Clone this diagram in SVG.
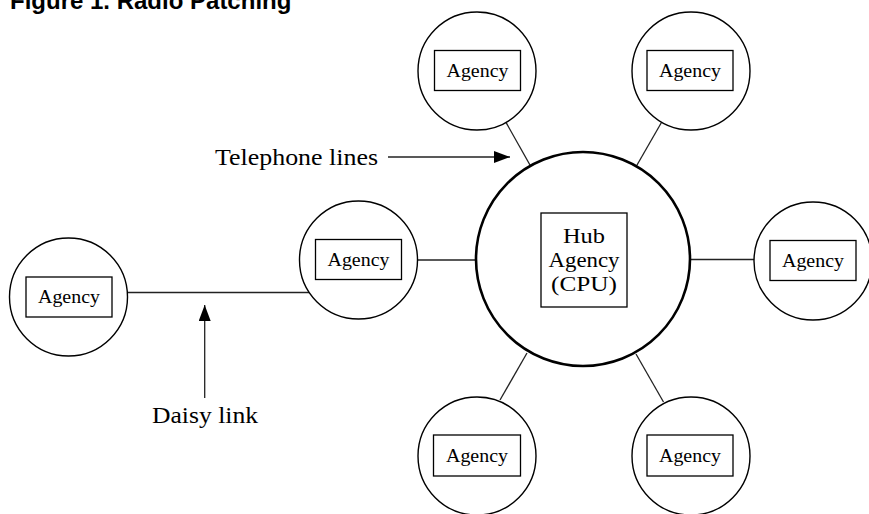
<svg xmlns="http://www.w3.org/2000/svg" width="869" height="514" viewBox="0 0 869 514">
<style>
.c{fill:#fff;stroke:#000;stroke-width:1.4}
.hub{fill:#fff;stroke:#000;stroke-width:2.6}
.b{fill:#fff;stroke:#000;stroke-width:1.3}
.t{font-family:"Liberation Serif","Times New Roman",serif;font-size:19px;fill:#000;text-anchor:middle}
.th{font-family:"Liberation Serif","Times New Roman",serif;font-size:21px;fill:#000;text-anchor:middle}
.lbl{font-family:"Liberation Serif","Times New Roman",serif;font-size:23px;fill:#000}
.ln{stroke:#222;stroke-width:1.3;fill:none}
.title{font-family:"Liberation Sans",Arial,sans-serif;font-weight:900;font-size:24px;fill:#000}
</style>
<defs>
<marker id="ah" markerWidth="16" markerHeight="12" refX="16" refY="6" orient="auto" markerUnits="userSpaceOnUse">
<path d="M0,0 L16,6 L0,12 Z" fill="#000"/>
</marker>
</defs>
<rect width="869" height="514" fill="#fff"/>
<text class="title" x="10" y="9">Figure 1. Radio Patching</text>
<g id="connectors">
<line class="ln" x1="506" y1="122.4" x2="530.4" y2="165.8"/>
<line class="ln" x1="661.6" y1="122.2" x2="636.3" y2="166.2"/>
<line class="ln" x1="417.5" y1="260" x2="476.5" y2="260"/>
<line class="ln" x1="690" y1="259.5" x2="754" y2="259.5"/>
<line class="ln" x1="500" y1="400" x2="527" y2="353"/>
<line class="ln" x1="663.5" y1="402" x2="636" y2="354"/>
<line class="ln" x1="127.5" y1="292.5" x2="309" y2="292.5"/>
<line class="ln" x1="388" y1="157" x2="510" y2="157" marker-end="url(#ah)"/>
<line class="ln" x1="204.7" y1="398" x2="204.7" y2="305" marker-end="url(#ah)"/>
</g>
<g id="hub">
<circle class="hub" cx="583" cy="259" r="107"/>
<rect class="b" x="541" y="213" width="86" height="94"/>
<text class="th" x="584" y="243" textLength="42" lengthAdjust="spacingAndGlyphs">Hub</text>
<text class="th" x="584" y="267" textLength="71" lengthAdjust="spacingAndGlyphs">Agency</text>
<text class="th" x="584" y="291" textLength="66" lengthAdjust="spacingAndGlyphs">(CPU)</text>
</g>
<g id="agency-top-left">
<circle class="c" cx="477" cy="71" r="59"/>
<rect class="b" x="434.5" y="50.5" width="86" height="40"/>
<text class="t" x="477.5" y="77" textLength="62" lengthAdjust="spacingAndGlyphs">Agency</text>
</g>
<g id="agency-top-right">
<circle class="c" cx="691" cy="71" r="59"/>
<rect class="b" x="647" y="50.5" width="86" height="40"/>
<text class="t" x="690" y="77" textLength="62" lengthAdjust="spacingAndGlyphs">Agency</text>
</g>
<g id="agency-right">
<circle class="c" cx="813" cy="261" r="59"/>
<rect class="b" x="770" y="240.5" width="86" height="40"/>
<text class="t" x="813" y="267" textLength="62" lengthAdjust="spacingAndGlyphs">Agency</text>
</g>
<g id="agency-mid-left">
<circle class="c" cx="358.5" cy="260" r="59"/>
<rect class="b" x="315.5" y="239.5" width="86" height="40"/>
<text class="t" x="358.5" y="266" textLength="62" lengthAdjust="spacingAndGlyphs">Agency</text>
</g>
<g id="agency-far-left">
<circle class="c" cx="68.5" cy="297" r="59"/>
<rect class="b" x="26" y="277" width="86" height="40"/>
<text class="t" x="69" y="303" textLength="62" lengthAdjust="spacingAndGlyphs">Agency</text>
</g>
<g id="agency-bottom-left">
<circle class="c" cx="477" cy="456" r="59"/>
<rect class="b" x="433.5" y="435" width="87" height="41"/>
<text class="t" x="477" y="462" textLength="62" lengthAdjust="spacingAndGlyphs">Agency</text>
</g>
<g id="agency-bottom-right">
<circle class="c" cx="691" cy="456" r="59"/>
<rect class="b" x="647" y="435" width="86" height="41"/>
<text class="t" x="690" y="462" textLength="62" lengthAdjust="spacingAndGlyphs">Agency</text>
</g>
<text class="lbl" x="215" y="165" textLength="163" lengthAdjust="spacingAndGlyphs">Telephone lines</text>
<text class="lbl" x="152" y="423" textLength="106" lengthAdjust="spacingAndGlyphs">Daisy link</text>
</svg>
